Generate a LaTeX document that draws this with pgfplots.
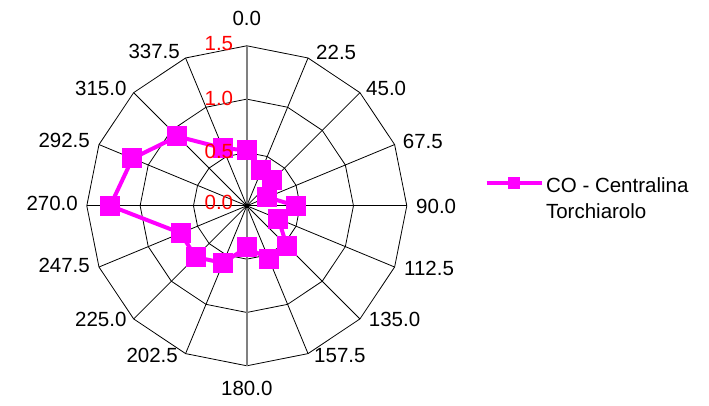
\documentclass[border=0pt]{standalone}
\usepackage{fontspec}
\setmainfont{Liberation Sans}
\usepackage{pgfplots}
\pgfplotsset{compat=1.18}
\usepackage{pgfplotstable}
\definecolor{mag}{RGB}{255,0,255}
\definecolor{axgray}{RGB}{128,128,128}

% direction (deg, clockwise from north)  value
\pgfplotstableread{
dir val
0 0.52
22.5 0.36
45 0.34
67.5 0.21
90 0.46
112.5 0.32
135 0.53
157.5 0.54
180 0.39
202.5 0.58
225 0.68
247.5 0.67
270 1.28
292.5 1.16
315 0.92
337.5 0.585
360 0.52
}\codata

\begin{document}
\begin{tikzpicture}[font=\fontsize{20.5}{24}\selectfont]
\useasboundingbox (0,0) rectangle (709pt,406pt);
\coordinate (C) at (246.8pt,200.2pt);
\begin{scope}[shift={(C)}]
  \foreach \r in {53.333,106.667,160}
    \draw[black, line width=0.8pt] plot[samples at={0,22.5,...,337.5}] ({\x}:{\r pt}) -- cycle;
  \foreach \a in {0,22.5,...,337.5}
    \draw[black, line width=0.8pt] (0,0) -- (\a:160pt);
  \draw[axgray, line width=1.4pt] (0,-160pt) -- (0,160pt);
  \fill (0,0) circle (2.5pt);
\end{scope}
\begin{axis}[at={(C)}, anchor=origin,
  x=106.667pt, y=106.667pt,
  xmin=-1.5, xmax=1.5, ymin=-1.5, ymax=1.5,
  hide axis, clip=false,
  legend style={at={(axis cs:2.23,0.212)}, anchor=west, draw=none, fill=none,
     inner sep=0pt, font=\fontsize{20.5}{28.4}\selectfont},
  legend cell align=left,
  legend image code/.code={%
    \draw[#1, line width=3.5pt, mark size=5.5pt, mark repeat=2, mark phase=2]
      plot coordinates {(0pt,0pt) (27.85pt,0pt) (55.7pt,0pt)};}
]
\addplot[mag, line width=4pt, mark=square*, mark size=9.5pt,
  mark options={solid, line width=1pt, fill=mag, draw=mag}, data cs=polar]
  table[x expr={90-\thisrow{dir}}, y=val] {\codata};
\addlegendentry{\begin{tabular}[t]{@{}l@{}}CO - Centralina\\[-2.6pt]Torchiarolo\end{tabular}}
\end{axis}
\begin{scope}[shift={(C)}, every node/.style={inner sep=0pt}]
  \node[anchor=center] at (0pt,187.8pt) {0.0};
  \node[anchor=west] at (69.2pt,153.8pt) {22.5};
  \node[anchor=west] at (119.2pt,117.8pt) {45.0};
  \node[anchor=west] at (155.9pt,64.1pt) {67.5};
  \node[anchor=west] at (169.2pt,-0.2pt) {90.0};
  \node[anchor=west] at (157.2pt,-62.2pt) {112.5};
  \node[anchor=west] at (121.9pt,-113.2pt) {135.0};
  \node[anchor=west] at (67.2pt,-150.2pt) {157.5};
  \node[anchor=center] at (0pt,-182.2pt) {180.0};
  \node[anchor=east] at (-68.8pt,-149.2pt) {202.5};
  \node[anchor=east] at (-120.1pt,-113.2pt) {225.0};
  \node[anchor=east] at (-156.8pt,-59.2pt) {247.5};
  \node[anchor=east] at (-168.8pt,2.8pt) {270.0};
  \node[anchor=east] at (-156.8pt,65.8pt) {292.5};
  \node[anchor=east] at (-120.1pt,117.8pt) {315.0};
  \node[anchor=east] at (-66.8pt,154.1pt) {337.5};
  \node[anchor=east, text=red] at (-13.5pt,162.5pt) {1.5};
  \node[anchor=east, text=red] at (-13.5pt,107.5pt) {1.0};
  \node[anchor=east, text=red] at (-13.5pt,54.1pt) {0.5};
  \node[anchor=east, text=red] at (-13.5pt,3.5pt) {0.0};
\end{scope}
\end{tikzpicture}
\end{document}
